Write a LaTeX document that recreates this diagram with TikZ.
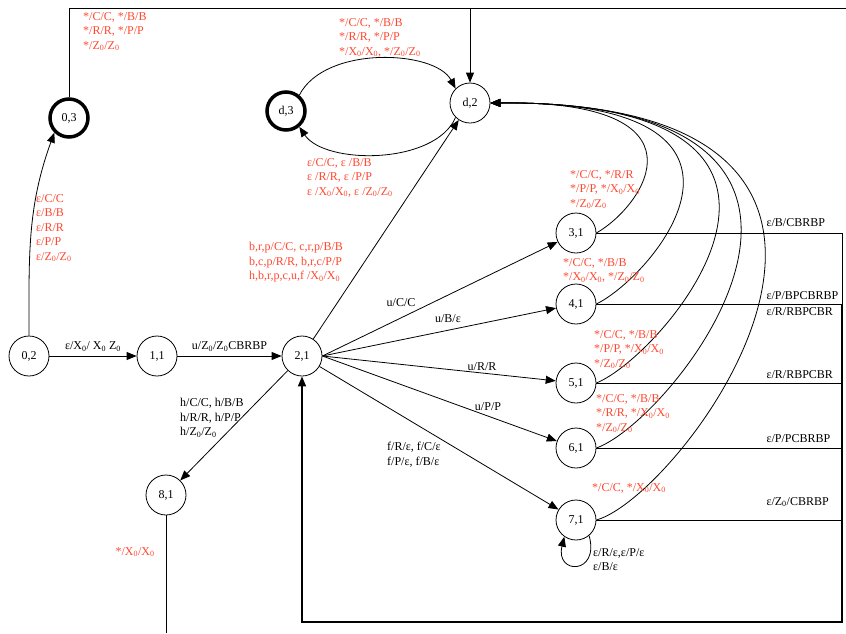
\documentclass[tikz,border=0pt]{standalone}
\usepackage{fontspec}
\setmainfont{Liberation Serif}
\usetikzlibrary{arrows.meta}
\definecolor{tred}{RGB}{255,72,48}
\newcommand{\Xo}{X\textsubscript{0}}
\newcommand{\Zo}{Z\textsubscript{0}}
\tikzset{
  state/.style={circle, draw, line width=0.8pt, minimum size=40pt, inner sep=0pt},
  final/.style={state, line width=3.5pt, minimum size=38pt},
  redlbl/.style={text=tred, align=left, anchor=north west, inner sep=0pt},
  blklbl/.style={align=left, anchor=north west, inner sep=0pt},
  trans/.style={->, line width=0.8pt},
  back/.style={line width=0.8pt},
}

\begin{document}
\begin{tikzpicture}[x=1pt, y=-1pt, >={Triangle[length=10pt, width=8pt]},
                    font=\fontsize{12}{14.5}\selectfont]
  \useasboundingbox (0,0) rectangle (846,633);

  % States
  \node[state] (n02) at (29,356) {0,2};
  \node[state] (n11) at (157,356) {1,1};
  \node[state] (n21) at (302,356) {2,1};
  \node[final] (n03) at (69,118) {0,3};
  \node[final] (nd3) at (286,111) {d,3};
  \node[state] (nd2) at (470,103) {d,2};
  \node[state] (n31) at (576,233) {3,1};
  \node[state] (n41) at (576,304) {4,1};
  \node[state] (n51) at (576,383) {5,1};
  \node[state] (n61) at (576,448) {6,1};
  \node[state] (n71) at (576,520) {7,1};
  \node[state] (n81) at (166,495) {8,1};

  % Helper points
  \coordinate (tr) at (846,8);
  \coordinate (rt) at (842,233);
  \coordinate (rb) at (842,622);
  \coordinate (n81end) at (166,633);

  % Start chain
  \draw[trans] (n02) -- (n11) node[midway, above=1pt] {ε/\Xo/ \Xo\ \Zo};
  \draw[trans] (n11) -- (n21) node[midway, above=1pt] {u/\Zo/\Zo CBRBP};
  \draw[trans] (n02.north) to[out=90, in=250] (n03.south west);
  \node[redlbl] at (36,194) {ε/C/C\\ε/B/B\\ε/R/R\\ε/P/P\\ε/\Zo/\Zo};

  % 0,3 to d,2 over the top
  \draw[trans] (n03.north) |- (nd2.north |- tr) -- (nd2.north);
  \draw[back] (nd2.north |- tr) -- (tr);
  \node[redlbl] at (83,12) {*/C/C, */B/B\\*/R/R, */P/P\\*/\Zo/\Zo};

  % d,3 and d,2
  \draw[trans] (nd3.50) .. controls (325,45) and (435,50) .. (nd2.135);
  \draw[trans] (nd2.225) .. controls (435,165) and (325,165) .. (nd3.-50);
  \node[redlbl] at (339,18) {*/C/C, */B/B\\*/R/R, */P/P\\*/\Xo/\Xo, */\Zo/\Zo};
  \node[redlbl] at (307,158) {ε/C/C, ε /B/B\\ε /R/R, ε /P/P\\ε /\Xo/\Xo, ε /\Zo/\Zo};

  % From 2,1
  \draw[trans] (n21) -- (nd2);
  \node[redlbl] at (249,242) {b,r,p/C/C, c,r,p/B/B\\b,c,p/R/R, b,r,c/P/P\\h,b,r,p,c,u,f /\Xo/\Xo};
  \draw[trans] (n21.east) -- (n31);
  \draw[trans] (n21.east) -- (n41);
  \draw[trans] (n21.east) -- (n51);
  \draw[trans] (n21.east) -- (n61);
  \draw[trans] (n21) -- (n71);
  \draw[trans] (n21) -- (n81);
  \node at (401,303) {u/C/C};
  \node at (448,319) {u/B/ε};
  \node at (482,367) {u/R/R};
  \node at (488,407) {u/P/P};
  \node[blklbl] at (387,442) {f/R/ε, f/C/ε\\f/P/ε, f/B/ε};
  \node[blklbl] at (180,398) {h/C/C, h/B/B\\h/R/R, h/P/P\\h/\Zo/\Zo};

  % 8,1
  \draw[back] (n81.south) -- (n81end);
  \node[text=tred] at (135,552) {*/\Xo/\Xo};

  % Back to d,2
  \draw[trans] (n31.east) .. controls (645,205) and (715,100) .. (nd2.east);
  \draw[trans] (n41.east) .. controls (655,275) and (800,100) .. (nd2.east);
  \draw[trans] (n51.east) .. controls (665,355) and (880,100) .. (nd2.east);
  \draw[trans] (n61.east) .. controls (675,420) and (925,100) .. (nd2.east);
  \draw[trans] (n71.east) .. controls (685,495) and (975,100) .. (nd2.east);
  \node[redlbl] at (570,170) {*/C/C, */R/R\\*/P/P, */\Xo/\Xo\\*/\Zo/\Zo};
  \node[redlbl] at (563,258) {*/C/C, */B/B\\*/\Xo/\Xo, */\Zo/\Zo};
  \node[redlbl] at (594,330) {*/C/C, */B/B\\*/P/P, */\Xo/\Xo\\*/\Zo/\Zo};
  \node[redlbl] at (596,394) {*/C/C, */B/B\\*/R/R, */\Xo/\Xo\\*/\Zo/\Zo};
  \node[redlbl] at (592,483) {*/C/C, */\Xo/\Xo};

  % 7,1 loop
  \draw[trans] (n71.-50) .. controls (600,575) and (555,575) .. (n71.-125);
  \node[blklbl] at (593,548) {ε/R/ε,ε/P/ε\\ε/B/ε};

  % Back to 2,1
  \draw[back] (n31.east) -- (rt);
  \draw[back] (n41.east) -- (n41.east -| rb);
  \draw[back] (n51.east) -- (n51.east -| rb);
  \draw[back] (n61.east) -- (n61.east -| rb);
  \draw[back] (n71.east) -- (n71.east -| rb);
  \draw[back] (rt) -- (n41.east -| rb);
  \draw[->, line width=1.6pt] (n41.east -| rb) -- (rb) -| (n21.south);
  \node[anchor=west] at (763,223) {ε/B/CBRBP};
  \node[anchor=west] at (763,296) {ε/P/BPCBRBP};
  \node[anchor=west] at (763,312) {ε/R/RBPCBR};
  \node[anchor=west] at (763,375) {ε/R/RBPCBR};
  \node[anchor=west] at (763,439) {ε/P/PCBRBP};
  \node[anchor=west] at (763,502) {ε/\Zo/CBRBP};
\end{tikzpicture}
\end{document}
